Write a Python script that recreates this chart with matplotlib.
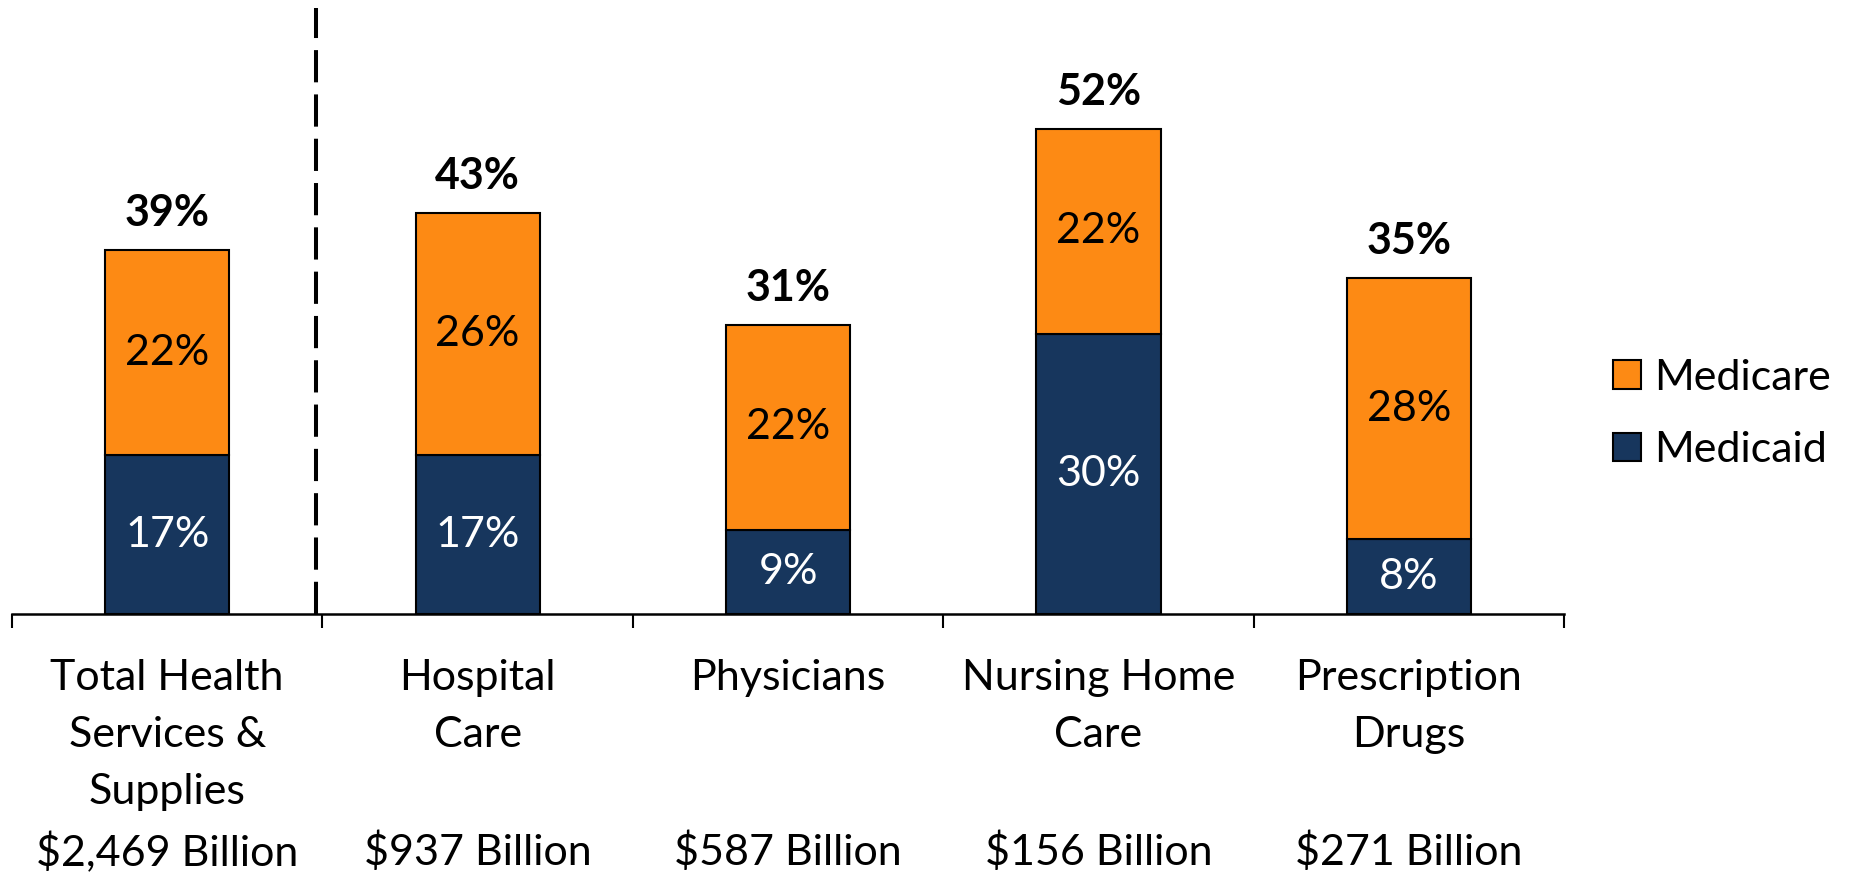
import matplotlib
matplotlib.use("Agg")
import matplotlib.pyplot as plt
from matplotlib.patches import Patch

plt.rcParams['font.family'] = ['Lato', 'DejaVu Sans']

# data
categories = ["Total Health\nServices &\nSupplies\n$2,469 Billion",
              "Hospital\nCare\n\n$937 Billion",
              "Physicians\n\n\n$587 Billion",
              "Nursing Home\nCare\n\n$156 Billion",
              "Prescription\nDrugs\n\n$271 Billion"]
medicaid = [17, 17, 9, 30, 8]
medicare = [22, 26, 22, 22, 28]
totals = [39, 43, 31, 52, 35]

orange = "#FD8A14"
navy = "#17365D"

fig = plt.figure(figsize=(18.51, 8.75), dpi=100)
ax = fig.add_axes([0.0065, 0.2983, 0.8385, 0.7017])

x = list(range(len(categories)))
b1 = ax.bar(x, medicaid, width=0.4, color=navy, edgecolor="black", linewidth=1.5)
b2 = ax.bar(x, medicare, width=0.4, bottom=medicaid, color=orange,
            edgecolor="black", linewidth=1.5)

fs = 31
for i in x:
    ax.text(i, medicaid[i] / 2, f"{medicaid[i]}%", ha="center", va="center",
            color="white", fontsize=fs)
    ax.text(i, medicaid[i] + medicare[i] / 2, f"{medicare[i]}%", ha="center",
            va="center", color="black", fontsize=fs)
    ax.annotate(f"{totals[i]}%", (i, medicaid[i] + medicare[i]),
                xytext=(0, 12), textcoords="offset points", ha="center",
                va="bottom", fontsize=fs, fontweight="bold")

ax.set_xlim(-0.5, 4.5)
ax.set_ylim(0, 65.8)

# divider after the total column
ax.plot([0.48, 0.48], [0, 64.9], color="black", linewidth=2.9,
        linestyle=(0, (8, 3)))

for s in ["top", "right", "left"]:
    ax.spines[s].set_visible(False)
ax.spines["bottom"].set_linewidth(1.8)
ax.set_yticks([])
ax.set_xticks([i - 0.5 for i in range(len(categories) + 1)])
ax.set_xticklabels([])
ax.tick_params(axis="x", direction="out", length=10, width=1.5)
for i, lab in enumerate(categories):
    ax.text(i, -4.85, lab, ha="center", va="top", fontsize=fs,
            linespacing=1.61)

handles = [Patch(facecolor=orange, edgecolor="black", linewidth=1.5),
           Patch(facecolor=navy, edgecolor="black", linewidth=1.5)]
fig.legend(handles, ["Medicare", "Medicaid"], loc="center left",
           bbox_to_anchor=(0.8714, 0.527), frameon=False, fontsize=fs,
           handlelength=0.65, handleheight=0.65, handletextpad=0.3,
           labelspacing=0.8, borderpad=0, borderaxespad=0)

fig.savefig("out.png", dpi=100)
